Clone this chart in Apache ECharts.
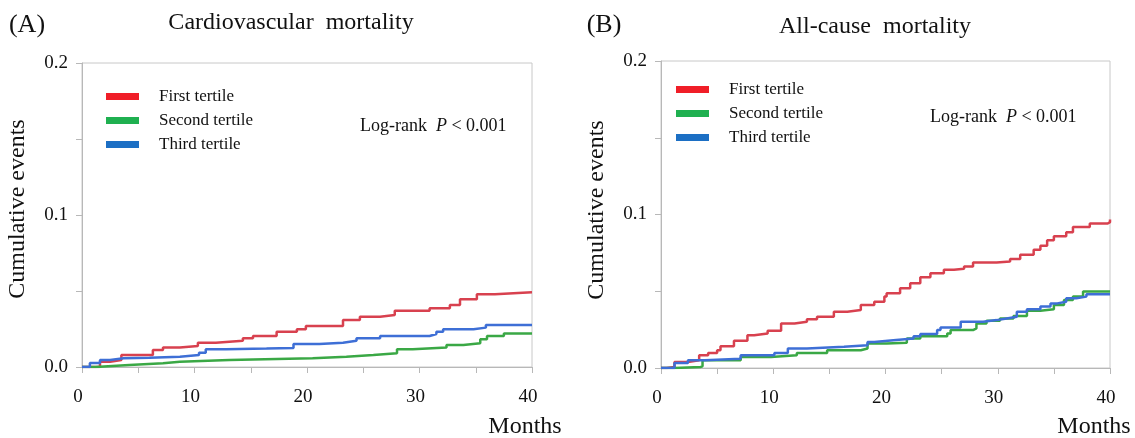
<!DOCTYPE html>
<html>
<head>
<meta charset="utf-8">
<script src="https://cdn.jsdelivr.net/npm/echarts@6/dist/echarts.min.js"></script>
<style>
  html, body { margin: 0; padding: 0; background: #fff; }
  #chart { width: 1135px; height: 438px; }
</style>
</head>
<body>
<div id="chart"></div>
<script>
// legend names, one per tertile
var tertiles = ["First tertile", "Second tertile", "Third tertile"];
var panelTitles = ["Cardiovascular  mortality", "All-cause  mortality"];
var panelTags = ["(A)", "(B)"];
var pValueText = "< 0.001";

// [month, cumulative events], step changes
var cvFirst = [[0, 0], [1.6, 0.0035], [2.5, 0.0046], [3.5, 0.0079], [6.3, 0.0112], [7.2, 0.0129],
  [8.7, 0.0138], [10.3, 0.016], [11.9, 0.0173], [14.3, 0.0189], [15.2, 0.0204], [17.3, 0.0232],
  [19.1, 0.0248], [19.9, 0.027], [23.2, 0.0309], [24.7, 0.0331], [26.5, 0.0342], [27.8, 0.037],
  [30.9, 0.0386], [32.7, 0.0408], [33.6, 0.0445], [35.1, 0.0478], [36.7, 0.0491], [40, 0.0491]];
var cvSecond = [[0, 0], [1.2, 0.0013], [4.2, 0.0024], [7.2, 0.0035], [8.7, 0.0046], [13.1, 0.0057],
  [20.5, 0.0068], [23.5, 0.0079], [25.9, 0.009], [28, 0.0116], [29.4, 0.0129], [32.4, 0.0145],
  [33.9, 0.0156], [35.4, 0.0182], [36, 0.0204], [37.5, 0.0221], [40, 0.0221]];
var cvThird = [[0, 0], [0.7, 0.0026], [1.6, 0.0046], [2.5, 0.0057], [3.7, 0.0061], [6, 0.0068],
  [8.7, 0.0079], [10.4, 0.0094], [11, 0.0116], [12.8, 0.0121], [16.4, 0.0125], [18.8, 0.0151],
  [21.1, 0.016], [23.2, 0.0173], [24.4, 0.0189], [26.5, 0.0204], [30.9, 0.0217], [31.5, 0.0232],
  [32.1, 0.0248], [34.8, 0.0259], [35.9, 0.0276], [40, 0.0276]];

var acFirst = [[0, 0], [0.5, 0.0007], [1.2, 0.0039], [2.4, 0.005], [3.4, 0.0083], [4.2, 0.0098],
  [5, 0.0116], [5.3, 0.0142], [6.5, 0.0177], [7.7, 0.0214], [8.3, 0.0225], [9.5, 0.0242],
  [10.7, 0.029], [11.9, 0.0301], [13, 0.0317], [13.9, 0.0334], [15.4, 0.0367], [16.6, 0.0378],
  [17.8, 0.041], [19, 0.0432], [19.9, 0.0465], [20.1, 0.0487], [21.3, 0.052], [22.2, 0.0552],
  [23.1, 0.0592], [24, 0.0618], [25.2, 0.064], [26.1, 0.0646], [27, 0.0662], [27.8, 0.0688],
  [29.9, 0.0694], [31.1, 0.071], [32, 0.0738], [33.2, 0.0771], [33.8, 0.0797], [34.4, 0.0832],
  [35, 0.0858], [36.1, 0.0884], [36.7, 0.0919], [38.2, 0.0941], [39.8, 0.095], [40, 0.0967]];
var acSecond = [[0, 0], [1.2, 0.0007], [3.5, 0.0011], [3.7, 0.005], [7.1, 0.0072], [9.8, 0.0083],
  [12.1, 0.0098], [14.8, 0.0116], [17.8, 0.0127], [18.4, 0.0159], [20.1, 0.0164], [21.9, 0.0192],
  [23.1, 0.0207], [25.5, 0.0225], [25.8, 0.0247], [27.8, 0.0258], [28.1, 0.029], [29, 0.0308],
  [30.2, 0.0323], [31.4, 0.0338], [32.6, 0.0373], [33.8, 0.0382], [35, 0.041], [35.9, 0.0443],
  [36.7, 0.0465], [37.6, 0.0498], [40, 0.0498]];
var acThird = [[0, 0], [1.2, 0.0033], [2.4, 0.005], [3.9, 0.0061], [7.1, 0.0083], [10.1, 0.0098],
  [11.3, 0.0127], [13, 0.0138], [16.3, 0.0148], [18.4, 0.017], [19, 0.0181], [20.7, 0.0192],
  [22.5, 0.0207], [23.1, 0.0221], [24.6, 0.0247], [24.9, 0.0264], [26.7, 0.0301], [28.7, 0.0312],
  [29.9, 0.0323], [30.8, 0.0334], [31.7, 0.0367], [32.6, 0.0382], [33.8, 0.04], [34.7, 0.0421],
  [35.3, 0.0432], [36.1, 0.0454], [37, 0.0465], [37.9, 0.048], [40, 0.048]];

var FONT = "Liberation Serif";
var lineColors = ["#d8414f", "#3aa845", "#3e6fd6"];
var swatchColors = ["#f01e28", "#1fb050", "#1c6fc4"];

var chart = echarts.init(document.getElementById("chart"));

var makeX = (idx) => ({
  type: "value", gridIndex: idx, min: 0, max: 40, interval: 5,
  axisLine: { lineStyle: { color: "#b8b8b8", width: 1 } },
  axisTick: { length: 6, lineStyle: { color: "#b8b8b8" } },
  splitLine: { show: false },
  axisLabel: {
    margin: 21, fontFamily: FONT, fontSize: 19, color: "#111", padding: [0, 8, 0, 0],
    formatter: (v) => (v % 10 === 0 ? String(v) : ""),
  },
});

var makeY = (idx) => ({
  type: "value", gridIndex: idx, min: 0, max: 0.2, interval: 0.05,
  axisLine: { show: true, lineStyle: { color: "#b8b8b8", width: 1 } },
  axisTick: { show: true, length: 6, lineStyle: { color: "#b8b8b8" } },
  splitLine: { show: false },
  axisLabel: {
    margin: 14, fontFamily: FONT, fontSize: 19, color: "#111",
    formatter: (v) => {
      var t = Math.round(v * 100);
      return t % 10 === 0 ? (t / 100).toFixed(1) : "";
    },
  },
});

var makeLegend = (left, top) => ({
  orient: "vertical", left: left, top: top,
  itemWidth: 33, itemHeight: 7, itemGap: 7, icon: "rect",
  textStyle: { fontFamily: FONT, fontSize: 17, color: "#111", padding: [0, 0, 0, 15] },
  data: tertiles.map((name, i) => ({ name: name, itemStyle: { color: swatchColors[i] } })),
  selectedMode: false,
});

var makeSeries = (data, i, idx) => ({
  name: tertiles[i], type: "line", step: "end",
  xAxisIndex: idx, yAxisIndex: idx,
  data: data, showSymbol: false, symbol: "none",
  lineStyle: { color: lineColors[i], width: 2.5 },
  itemStyle: { color: lineColors[i] },
  z: 3 + i,
});

var logRank = (x, y) => ({
  type: "text", x: x, y: y,
  style: {
    text: "{n|Log-rank  }{i|P}{n| " + pValueText + "}",
    fontFamily: FONT, fontSize: 18, fill: "#111", verticalAlign: "middle",
    rich: {
      n: { fontFamily: FONT, fontSize: 18, fill: "#111" },
      i: { fontFamily: FONT, fontSize: 18, fontStyle: "italic", fill: "#111" },
    },
  },
});

var yName = (x, y, size) => ({
  type: "text", x: x, y: y, rotation: Math.PI / 2,
  style: {
    text: "Cumulative events", fontFamily: FONT, fontSize: size, fill: "#111",
    align: "center", verticalAlign: "middle",
  },
});

var centered = (x, y, str, size) => ({
  type: "text", x: x, y: y,
  style: { text: str, fontFamily: FONT, fontSize: size, fill: "#111", align: "center", verticalAlign: "middle" },
});

chart.setOption({
  backgroundColor: "#fff",
  animation: false,
  grid: [
    { left: 82, right: 603, top: 63, bottom: 71, show: true, borderColor: "#c8c8c8", borderWidth: 1 },
    { left: 661, right: 25, top: 61, bottom: 70, show: true, borderColor: "#c8c8c8", borderWidth: 1 },
  ],
  xAxis: [makeX(0), makeX(1)],
  yAxis: [makeY(0), makeY(1)],
  legend: [makeLegend(101, 83), makeLegend(671, 76)],
  series: [
    makeSeries(cvFirst, 0, 0), makeSeries(cvSecond, 1, 0), makeSeries(cvThird, 2, 0),
    makeSeries(acFirst, 0, 1), makeSeries(acSecond, 1, 1), makeSeries(acThird, 2, 1),
  ],
  graphic: [
    centered(27, 25, panelTags[0], 26),
    centered(291, 23, panelTitles[0], 24),
    centered(604, 25, panelTags[1], 26),
    centered(875, 27, panelTitles[1], 24),
    yName(18, 209, 24),
    yName(597, 210, 24),
    centered(525, 427, "Months", 24),
    centered(1094, 427, "Months", 24),
    logRank(360, 126),
    logRank(930, 117),
  ],
});
</script>
</body>
</html>
